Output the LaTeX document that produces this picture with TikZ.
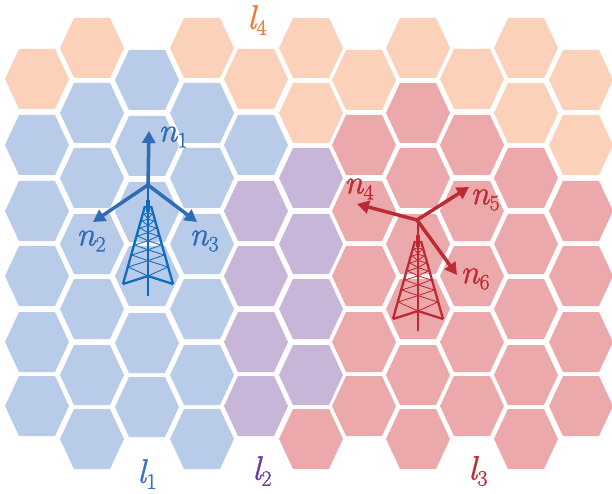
\documentclass[tikz,border=0pt]{standalone}
\usepackage{fontspec}
\newfontfamily\labfam{Latin Modern Roman}[FakeBold=1.0]
\usetikzlibrary{arrows.meta}
\definecolor{cP}{HTML}{FBD1BA}
\definecolor{cB}{HTML}{B8CBE8}
\definecolor{cU}{HTML}{C8B6D9}
\definecolor{cR}{HTML}{ECA9AC}
\definecolor{arB}{HTML}{2E6DB6}
\definecolor{twB}{HTML}{0F6CBD}
\definecolor{arR}{HTML}{BE2A33}
\definecolor{lbO}{HTML}{EE7B3B}
\definecolor{lbU}{HTML}{6A3D9C}
\definecolor{lbB}{HTML}{3A72BC}
\tikzset{
  hexP/.style={fill=cP}, hexB/.style={fill=cB}, hexU/.style={fill=cU}, hexR/.style={fill=cR},
  beam/.style={line width=3.5pt,-{Triangle[length=12pt,width=13pt]}},
  lab/.style={inner sep=0pt},
}
\newcommand\sym[2]{{\labfam\fontsize{34}{34}\selectfont\itshape #1}\kern0.5pt\raisebox{-6pt}{\labfam\fontsize{22}{22}\selectfont #2}}
\newcommand\hexcol[2]{\foreach \yy/\cc in {#2}{%
  \path[hex\cc,shift={(#1,\yy)}] (-32,0)--(-18,-30)--(18,-30)--(32,0)--(18,30)--(-18,30)--cycle;}}
\newcommand\towerat[3]{%
\begin{scope}[shift={(#1,#2)},draw=#3]
  \draw[line width=4pt] (0,0)--(0,12);
  \draw[line width=1.6pt] (0,-15)--(0,0);
  \draw[line width=2.4pt] (0,12)--(0,96);
  \draw[line width=2.3pt,line join=round] (-3,6)--(-25,84);
  \draw[line width=2.3pt,line join=round] (3,6)--(25,84);
  \draw[line width=2.3pt] (-25,84)--(0,76)--(25,84);
  \foreach \ya/\yb in {14/21,21/28,28/36,36/45,45/55,55/67,67/84}{
    \pgfmathsetmacro\wa{2+23*(\ya-8)/76}
    \pgfmathsetmacro\wb{2+23*(\yb-8)/76}
    \pgfmathsetmacro\da{\wa*0.32}
    \pgfmathsetmacro\db{\wb*0.32}
    \draw[line width=0.85pt] (-\wa,\ya)--(0,\ya-\da)--(\wa,\ya);
    \draw[line width=0.85pt] (-\wa,\ya)--(0,\yb-\db)--(\wa,\ya);
  }
\end{scope}}
\begin{document}
\begin{tikzpicture}[x=1pt,y=-1pt]
\useasboundingbox (0,0) rectangle (612,494);
\hexcol{37}{79/P,145/B,211/B,276/B,342/B,406/B}
\hexcol{92}{48/P,113/B,178/B,244/B,309/B,375/B,439/B}
\hexcol{147}{80/B,146/B,212/B,276/B,343/B,407/B}
\hexcol{202}{48/P,113/B,178/B,244/B,309/B,375/B,439/B}
\hexcol{256}{79/P,145/B,211/U,276/U,342/U,406/U}
\hexcol{311}{48/P,113/P,178/U,244/U,309/U,375/U,439/R}
\hexcol{364}{80/P,145/R,211/R,276/R,342/R,406/R}
\hexcol{418}{48/P,113/R,178/R,244/R,309/R,375/R,439/R}
\hexcol{472}{79/P,145/R,211/R,276/R,342/R,406/R}
\hexcol{526}{48/P,113/P,178/R,244/R,309/R,375/R,439/R}
\hexcol{581}{80/P,145/P,211/R,276/R,342/R,406/R}
\towerat{148}{200}{twB}
\towerat{418}{235}{arR}
\coordinate (hubA) at (148,185);
\coordinate (hubB) at (417,220);
\coordinate (tipA) at (149,131);
\coordinate (tipB) at (93,222);
\coordinate (tipC) at (197,222);
\coordinate (tipD) at (357,204);
\coordinate (tipE) at (469,187);
\coordinate (tipF) at (457,275);
\draw[beam,arB] (hubA)--(tipA);
\draw[beam,arB] (hubA)--(tipB);
\draw[beam,arB] (hubA)--(tipC);
\draw[beam,arR] (hubB)--(tipD);
\draw[beam,arR] (hubB)--(tipE);
\draw[beam,arR] (hubB)--(tipF);
\node[lab,text=arB] (n1) at (173,137) {\sym{n}{1}};
\node[lab,text=arB] (n2) at (91,241) {\sym{n}{2}};
\node[lab,text=arB] (n3) at (204,241) {\sym{n}{3}};
\node[lab,text=arR] (n4) at (359,189) {\sym{n}{4}};
\node[lab,text=arR] (n5) at (485,200) {\sym{n}{5}};
\node[lab,text=arR] (n6) at (475,279) {\sym{n}{6}};
\node[lab,text=lbB] (l1) at (147,474) {\sym{l}{1}};
\node[lab,text=lbU] (l2) at (262,471) {\sym{l}{2}};
\node[lab,text=arR] (l3) at (478,471) {\sym{l}{3}};
\node[lab,text=lbO] (l4) at (257,20) {\sym{l}{4}};
\end{tikzpicture}
\end{document}
